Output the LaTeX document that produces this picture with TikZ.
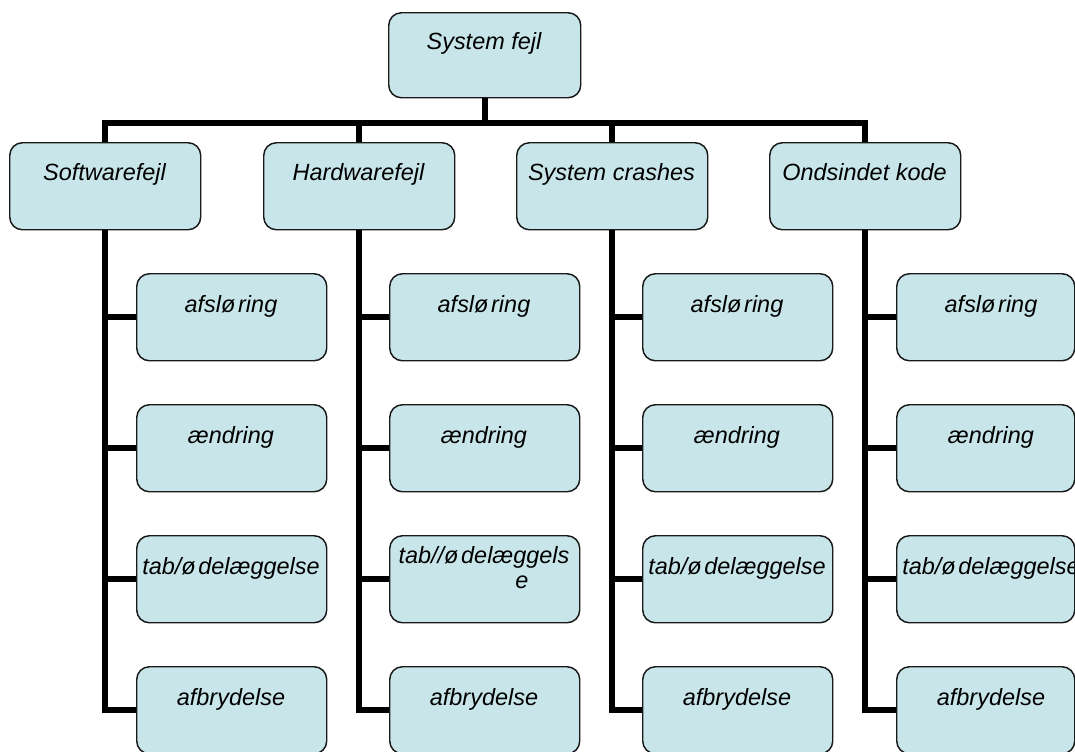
\documentclass[tikz,border=0pt]{standalone}
\usepackage{fontspec}
\setmainfont{Liberation Sans}
\definecolor{boxfill}{RGB}{200,230,234}
\definecolor{boxline}{RGB}{25,25,25}
\newcommand\ogap{ø\kern2pt}
\tikzset{
  box/.style={draw=boxline, line width=1.1pt, fill=boxfill, rounded corners=9.5pt,
    anchor=north west, inner sep=0pt, minimum height=65.25pt},
  lbl/.style={font=\fontsize{17.6}{21}\selectfont\itshape, inner sep=0pt, anchor=base},
  conn/.style={line width=4.2pt, line join=miter, draw=black},
}
\begin{document}
\begin{tikzpicture}[x=0.75pt,y=-0.75pt]
\useasboundingbox (0,0) rectangle (1075,751);
\clip (0,0) rectangle (1075,751);
% top
\node[box, minimum width=144pt, minimum height=63.75pt] (top) at (388,12) {};
\node[lbl] (t0) at (484,49) {System fejl};
% level 2
\foreach \i/\x/\t in {1/9/Softwarefejl, 2/263/Hardwarefejl, 3/516/System crashes, 4/769/Ondsindet kode}{
  \node[box, minimum width=143.25pt] (l\i) at (\x,142) {};
  \node[lbl] (tl\i) at (\x+95.5,180) {\t};
}
% children
\foreach \i/\x/\w in {1/136/142.5, 2/389/142.5, 3/642/142.5, 4/896/133.5}{
  \foreach \j/\y in {1/273, 2/404, 3/535, 4/666}{
    \node[box, minimum width=\w pt] (c\i\j) at (\x,\y) {};
  }
}
% child texts
\foreach \i/\cx in {1/231, 2/484, 3/737, 4/991}{
  \node[lbl] (tc\i1) at (\cx,312) {afsl\ogap ring};
  \node[lbl] (tc\i2) at (\cx,443) {ændring};
  \node[lbl] (tc\i4) at (\cx,705) {afbrydelse};
}
\foreach \i/\cx in {1/231, 3/737, 4/991}{
  \node[lbl] (tc\i3) at (\cx,574) {tab/\ogap delæggelse};
}
\node[lbl] (tc23a) at (484,563) {tab//\ogap delæggels};
\node[lbl] (tc23b) at (522,588) {e};
% connectors
\coordinate (bar) at (0,123);
\draw[conn] (top.south) -- (top.south |- bar);
\draw[conn] (l1.north) |- (l4.north |- bar) -- (l4.north);
\draw[conn] (l2.north) -- (l2.north |- bar);
\draw[conn] (l3.north) -- (l3.north |- bar);
\foreach \i in {1,...,4}{
  \draw[conn] (l\i.south) |- (c\i4.west);
  \foreach \j in {1,2,3}{
    \draw[conn] (l\i.south |- c\i\j.west) -- (c\i\j.west);
  }
}
\end{tikzpicture}
\end{document}
